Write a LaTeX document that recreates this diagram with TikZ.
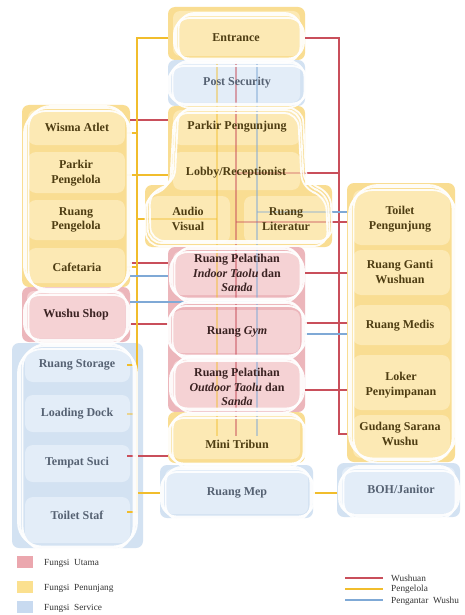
\documentclass[tikz,border=0pt]{standalone}
\usepackage{fontspec}
\setmainfont{Liberation Serif}
\usetikzlibrary{calc}
\definecolor{pY}{HTML}{F9DD92}
\definecolor{pYl}{HTML}{FCE9B4}
\definecolor{pP}{HTML}{ECB6BB}
\definecolor{pPl}{HTML}{F5D2D4}
\definecolor{pB}{HTML}{D3E2F2}
\definecolor{pBl}{HTML}{E3EDF8}
\definecolor{cR}{HTML}{C94F5B}
\definecolor{cY}{HTML}{F1BD2C}
\definecolor{cB}{HTML}{7FA9D6}
\definecolor{tY}{HTML}{4E3D12}
\definecolor{tB}{HTML}{566273}
\definecolor{tP}{HTML}{3A2222}
\definecolor{lgP}{HTML}{EBA7AE}
\definecolor{lgY}{HTML}{FBE08F}
\definecolor{lgB}{HTML}{C8DAF0}
\pgfdeclarelayer{panel}
\pgfdeclarelayer{conn}
\pgfdeclarelayer{scrib}
\pgfsetlayers{panel,conn,scrib,main}
\newcommand\panelbox[7]{\node[#2, minimum width={#5-#3}, minimum height={#6-#4}] (#1) at ({(#3+#5)/2},{(#4+#6)/2}) {};\fill[#7, rounded corners=7pt] (#3+5,#4+4) rectangle (#5-5,#6-4);}
\newcommand\rowbox[5]{\fill[#5, rounded corners=8pt] (#1,#2) rectangle (#3,#4);}
\newcommand\scrib[5]{%
 \draw[scr, rounded corners=#5] (#1,#2) rectangle (#3,#4);
 \draw[scr, rounded corners=#5] ($(#1,#2)+(2.5,-2)$) rectangle ($(#3,#4)+(-1.5,2.5)$);
 \draw[scr, rounded corners=#5] ($(#1,#2)+(-2,3)$) rectangle ($(#3,#4)+(2,-1.5)$);}
\begin{document}
\begin{tikzpicture}[x=1pt,y=-1pt,
  panelY/.style={fill=pY, rounded corners=7pt, inner sep=0pt, outer sep=0pt},
  panelP/.style={fill=pP, rounded corners=7pt, inner sep=0pt, outer sep=0pt},
  panelB/.style={fill=pB, rounded corners=7pt, inner sep=0pt, outer sep=0pt},
  wl/.style={draw=cR, line width=2.7pt},
  yl/.style={draw=cY, line width=2.7pt},
  bl/.style={draw=cB, line width=2.7pt},
  scr/.style={draw=white, line width=1.8pt, opacity=0.92},
  lab/.style={font=\bfseries\fontsize{12}{14.5}\selectfont, align=center, inner sep=1pt},
  labY/.style={lab, text=tY},
  labB/.style={lab, text=tB},
  labP/.style={lab, text=tP},
  leg/.style={font=\fontsize{9.3}{11}\selectfont, text=black!80, anchor=west, inner sep=0pt}]
\useasboundingbox (0,0) rectangle (465,615);

% ---------- panels ----------
\begin{pgfonlayer}{panel}
\fill[white] (0,0) rectangle (465,615);
\panelbox{pEnt}{panelY}{168}{7}{305}{60}{pYl}
\panelbox{pPost}{panelB}{168}{60}{305}{106}{pBl}
\panelbox{pAV}{panelY}{145}{185}{332}{247}{pY}
\panelbox{pMidY}{panelY}{168}{106}{305}{195}{pY}
\panelbox{pPink}{panelP}{168}{247}{305}{412}{pP}
\panelbox{pMini}{panelY}{168}{412}{305}{463}{pYl}
\panelbox{pMep}{panelB}{160}{465}{313}{518}{pBl}
\panelbox{pLeftY}{panelY}{22}{105}{130}{287}{pY}
\panelbox{pShop}{panelP}{22}{287}{130}{342}{pPl}
\panelbox{pLeftB}{panelB}{12}{343}{143}{548}{pB}
\panelbox{pRightY}{panelY}{347}{183}{455}{462}{pY}
\panelbox{pBoh}{panelB}{337}{463}{460}{517}{pBl}
% lighter rows
\rowbox{173}{110}{300}{145}{pYl}
\rowbox{173}{152}{300}{190}{pYl}
\rowbox{150}{196}{230}{243}{pYl}
\rowbox{244}{196}{328}{243}{pYl}
\rowbox{173}{251}{300}{295}{pPl}
\rowbox{173}{310}{300}{353}{pPl}
\rowbox{173}{360}{300}{408}{pPl}
\rowbox{28}{110}{125}{145}{pYl}
\rowbox{28}{152}{125}{193}{pYl}
\rowbox{28}{200}{125}{240}{pYl}
\rowbox{28}{248}{125}{283}{pYl}
\rowbox{25}{350}{130}{382}{pBl}
\rowbox{25}{395}{130}{432}{pBl}
\rowbox{25}{445}{130}{482}{pBl}
\rowbox{25}{497}{130}{543}{pBl}
\rowbox{353}{190}{450}{245}{pYl}
\rowbox{353}{250}{450}{295}{pYl}
\rowbox{353}{305}{450}{345}{pYl}
\rowbox{353}{355}{450}{410}{pYl}
\rowbox{353}{415}{450}{458}{pYl}
\end{pgfonlayer}

% ---------- labels ----------
\node[labY] (entrance) at (236,38) {Entrance};
\node[labB] (postsec) at (237,83) {Post Security};
\node[labY] (pkpeng) at (237,127) {Parkir Pengunjung};
\node[labY] (lobby) at (236,173) {Lobby/Receptionist};
\node[labY] (av) at (188,219) {Audio\\Visual};
\node[labY] (lit) at (286,219) {Ruang\\Literatur};
\node[labP] (indoor) at (237,273) {Ruang Pelatihan\\\textit{Indoor Taolu} dan\\\textit{Sanda}};
\node[labP] (gym) at (237,332) {Ruang \textit{Gym}};
\node[labP] (outdoor) at (237,387) {Ruang Pelatihan\\\textit{Outdoor Taolu} dan\\\textit{Sanda}};
\node[labY] (mini) at (237,444) {Mini Tribun};
\node[labB] (mep) at (237,493) {Ruang Mep};
\node[labY] (wisma) at (77,127) {Wisma Atlet};
\node[labY] (pkpgl) at (76,173) {Parkir\\Pengelola};
\node[labY] (rpgl) at (76,220) {Ruang\\Pengelola};
\node[labY] (cafe) at (77,267) {Cafetaria};
\node[labP] (shop) at (76,315) {Wushu Shop};
\node[labB] (storage) at (77,365) {Ruang Storage};
\node[labB] (loading) at (77,414) {Loading Dock};
\node[labB] (suci) at (77,463) {Tempat Suci};
\node[labB] (tstaf) at (77,515) {Toilet Staf};
\node[labY] (tpeng) at (400,219) {Toilet\\Pengunjung};
\node[labY] (ganti) at (400,272) {Ruang Ganti\\Wushuan};
\node[labY] (medis) at (400,326) {Ruang Medis};
\node[labY] (loker) at (401,385) {Loker\\Penyimpanan};
\node[labY] (gudang) at (400,434) {Gudang Sarana\\Wushu};
\node[labB] (boh) at (401,489) {BOH/Janitor};

% ---------- connectors ----------
\coordinate (rbus) at (339,0);
\coordinate (ybus) at (137,0);
\coordinate (lend) at (127,0);
\coordinate (vy) at (217,0);
\coordinate (vr) at (236,0);
\coordinate (vb) at (257,0);
\begin{pgfonlayer}{conn}
% faint lines through the middle column
\draw[yl, opacity=.45] (vy |- pPost.north) -- ([yshift=8pt]vy |- mini);
\draw[wl, opacity=.5] (vr |- pPost.north) -- ([yshift=8pt]vr |- mini);
\draw[bl, opacity=.5] (vb |- pPost.north) -- ([yshift=8pt]vb |- mini);
\draw[yl, opacity=.4] (pAV.west |- av) -- (vy |- av);
\draw[wl, opacity=.4] ([yshift=-3pt]vr |- lit) -- ([yshift=-3pt]pAV.east |- lit);
\draw[bl, opacity=.4] ([yshift=7pt]vb |- lit) -- ([yshift=7pt]pAV.east |- lit);
\draw[wl, opacity=.35] (vr |- lobby) -- (pMidY.east |- lobby);
% Wushuan (red)
\draw[wl] (pEnt.east |- entrance) -- (rbus |- entrance) -- (rbus |- gudang) -- (pRightY.west |- gudang);
\draw[wl] ([yshift=7pt]pLeftY.east |- wisma) -- ([yshift=7pt]pMidY.west |- wisma);
\draw[wl] (pMidY.east |- lobby) -- (rbus |- lobby);
\draw[wl] ([yshift=-3pt]pAV.east |- lit) -- ([yshift=-3pt]pRightY.west |- lit);
\draw[wl] ([yshift=4pt]pLeftY.east |- cafe) -- ([yshift=4pt]pPink.west |- cafe);
\draw[wl] ([yshift=-9pt]pShop.east |- shop) -- ([yshift=-9pt]pPink.west |- shop);
\draw[wl] (pPink.east |- indoor) -- (pRightY.west |- indoor);
\draw[wl] ([yshift=9pt]pPink.east |- gym) -- ([yshift=9pt]pRightY.west |- gym);
\draw[wl] ([yshift=-3pt]pPink.east |- outdoor) -- ([yshift=-3pt]pRightY.west |- outdoor);
\draw[wl] ([yshift=7pt]lend |- suci) -- ([yshift=7pt]pMini.west |- suci);
% Pengelola (yellow)
\draw[yl] (pEnt.west |- entrance) -- (ybus |- entrance) -- ([yshift=3pt]ybus |- tstaf) -- ([yshift=3pt]lend |- tstaf);
\draw[yl] ([yshift=-6pt]lend |- wisma) -- ([yshift=-6pt]ybus |- wisma);
\draw[yl] ([yshift=-2pt]lend |- lobby) -- ([yshift=-2pt]pMidY.west |- lobby);
\draw[yl] (ybus |- av) -- (pAV.west |- av);
\draw[yl] (lend |- cafe) -- (ybus |- cafe);
\draw[yl] (lend |- storage) -- (ybus |- storage);
\draw[yl, opacity=.5] (lend |- loading) -- (ybus |- loading);
\draw[yl] (ybus |- mep) -- (pMep.west |- mep);
\draw[yl] (pMep.east |- mep) -- (pBoh.west |- mep);
% Pengantar Wushu (blue)
\draw[bl] ([yshift=7pt]pAV.east |- lit) -- ([yshift=7pt]pRightY.west |- lit);
\draw[bl] ([yshift=-9pt]pLeftY.east |- cafe) -- ([yshift=-9pt]pPink.west |- cafe);
\draw[bl] ([yshift=13pt]pShop.east |- shop) -- ([yshift=13pt]vb |- shop);
\draw[bl] ([yshift=-2pt]pPink.east |- gym) -- ([yshift=-2pt]pRightY.west |- gym);
\end{pgfonlayer}

% ---------- white hand-drawn outlines ----------
\begin{pgfonlayer}{scrib}
\scrib{176}{15}{302}{60}{16pt}
\scrib{170}{63}{306}{105}{16pt}
\foreach \s/\t in {0/0, 2.5/-2, -2/3}{
 \draw[scr, rounded corners=14pt, shift={(\s,\t)}] (176,110) -- (300,110) -- (304,186) -- (328,193) -- (330,243) -- (148,243) -- (147,193) -- (172,186) -- cycle;}
\scrib{172}{249}{302}{300}{18pt}
\scrib{170}{303}{304}{357}{18pt}
\scrib{172}{358}{302}{410}{18pt}
\scrib{170}{415}{305}{465}{16pt}
\scrib{163}{469}{312}{518}{16pt}
\scrib{26}{108}{129}{290}{22pt}
\scrib{26}{292}{128}{341}{16pt}
\scrib{20}{346}{135}{548}{24pt}
\scrib{351}{187}{454}{460}{24pt}
\scrib{341}{468}{457}{516}{16pt}
\end{pgfonlayer}

% ---------- legend ----------
\fill[lgP] (17,556) rectangle (33,568);
\fill[lgY] (17,581) rectangle (33,593);
\fill[lgB] (17,601) rectangle (33,613);
\node[leg] (lg1) at (44,563) {Fungsi\ \ Utama};
\node[leg] (lg2) at (44,588) {Fungsi\ \ Penunjang};
\node[leg] (lg3) at (44,608) {Fungsi\ \ Service};
\coordinate (lw1) at (345,578); \coordinate (lw2) at (383,578);
\coordinate (ly1) at (345,589); \coordinate (ly2) at (383,589);
\coordinate (lb1) at (345,600); \coordinate (lb2) at (383,600);
\draw[wl] (lw1) -- (lw2);
\draw[yl] (ly1) -- (ly2);
\draw[bl] (lb1) -- (lb2);
\node[leg] (lg4) at (391,578) {Wushuan};
\node[leg] (lg5) at (391,589) {Pengelola};
\node[leg] (lg6) at (391,601) {Pengantar\ \ Wushu};
\end{tikzpicture}
\end{document}
